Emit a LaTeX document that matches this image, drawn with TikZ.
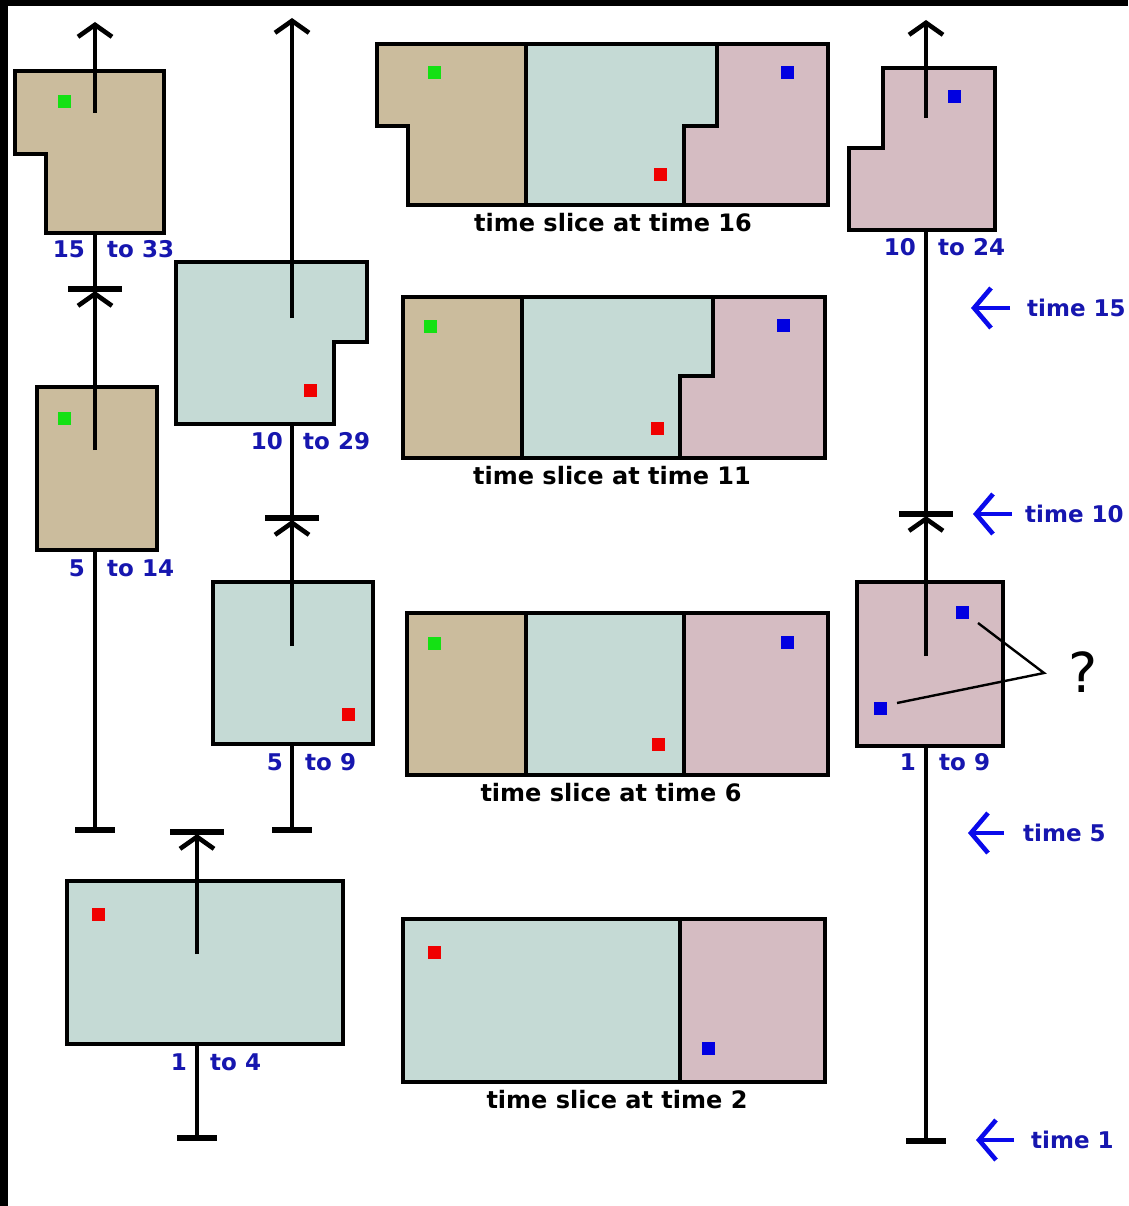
\documentclass[tikz,border=0pt]{standalone}
\usepackage{fontspec}
\setmainfont{DejaVu Sans}
\usetikzlibrary{arrows.meta}
\definecolor{tanc}{RGB}{203,188,157}
\definecolor{bluec}{RGB}{197,218,213}
\definecolor{pinkc}{RGB}{213,188,194}
\definecolor{lblue}{RGB}{22,22,175}
\definecolor{ablue}{RGB}{10,10,235}
\definecolor{sqgreen}{RGB}{20,225,20}
\definecolor{sqred}{RGB}{240,0,0}
\definecolor{sqblue}{RGB}{0,0,225}
\begin{document}
\begin{tikzpicture}[x=1pt,y=-1pt,
  region/.style={draw=black,line width=3.6pt,line join=miter},
  tl/.style={line width=4.6pt},
  up/.style={tl,-{Straight Barb[length=12pt,width=34pt]}},
  barline/.style={line width=5.5pt},
  dot/.style={minimum size=13pt,inner sep=0pt,outer sep=0pt},
  gdot/.style={dot,fill=sqgreen},
  rdot/.style={dot,fill=sqred},
  bdot/.style={dot,fill=sqblue},
  numlbl/.style={font=\bfseries\fontsize{23}{23}\selectfont,text=lblue,inner sep=0pt},
  slicelbl/.style={font=\bfseries\fontsize{24}{24}\selectfont,text=black,inner sep=0pt},
  timelbl/.style={font=\bfseries\fontsize{23}{23}\selectfont,text=lblue,inner sep=0pt,anchor=west},
  timearrow/.style={ablue,line width=4.6pt,-{Straight Barb[length=17pt,width=40pt]}},
  qline/.style={line width=2.4pt}
]
\useasboundingbox (0,0) rectangle (1128,1206);
\fill[white] (0,0) rectangle (1128,1206);
\fill[black] (0,0) rectangle (1128,6);
\fill[black] (0,0) rectangle (8,1206);

% ---------- object boxes ----------
\draw[region,fill=tanc] (15,71) -- (164,71) -- (164,233) -- (46,233) -- (46,154) -- (15,154) -- cycle;
\draw[region,fill=tanc] (37,387) rectangle (157,550);
\draw[region,fill=bluec] (176,262) -- (367,262) -- (367,342) -- (334,342) -- (334,424) -- (176,424) -- cycle;
\draw[region,fill=bluec] (213,582) rectangle (373,744);
\draw[region,fill=bluec] (67,881) rectangle (343,1044);
\draw[region,fill=pinkc] (883,68) -- (995,68) -- (995,230) -- (849,230) -- (849,148) -- (883,148) -- cycle;
\draw[region,fill=pinkc] (857,582) rectangle (1003,746);

% ---------- time slices ----------
% time 16
\draw[region,fill=tanc] (377,44) -- (526,44) -- (526,205) -- (408,205) -- (408,126) -- (377,126) -- cycle;
\draw[region,fill=bluec] (526,44) -- (717,44) -- (717,126) -- (684,126) -- (684,205) -- (526,205) -- cycle;
\draw[region,fill=pinkc] (717,44) -- (828,44) -- (828,205) -- (684,205) -- (684,126) -- (717,126) -- cycle;
\node[slicelbl] (s16) at (613,223) {time slice at time 16};
% time 11
\draw[region,fill=tanc] (403,297) rectangle (522,458);
\draw[region,fill=bluec] (522,297) -- (713,297) -- (713,376) -- (680,376) -- (680,458) -- (522,458) -- cycle;
\draw[region,fill=pinkc] (713,297) -- (825,297) -- (825,458) -- (680,458) -- (680,376) -- (713,376) -- cycle;
\node[slicelbl] (s11) at (612,476) {time slice at time 11};
% time 6
\draw[region,fill=tanc] (407,613) rectangle (526,775);
\draw[region,fill=bluec] (526,613) rectangle (684,775);
\draw[region,fill=pinkc] (684,613) rectangle (828,775);
\node[slicelbl] (s6) at (611,793) {time slice at time 6};
% time 2
\draw[region,fill=bluec] (403,919) rectangle (680,1082);
\draw[region,fill=pinkc] (680,919) rectangle (825,1082);
\node[slicelbl] (s2) at (617,1100) {time slice at time 2};

% ---------- coloured markers ----------
\node[gdot] (g1) at (64,102) {};
\node[gdot] (g2) at (64,418) {};
\node[rdot] (r1) at (310,390) {};
\node[rdot] (r2) at (348,714) {};
\node[rdot] (r3) at (98,914) {};
\node[bdot] (b1) at (954,97) {};
\node[bdot] (b2) at (962,612) {};
\node[bdot] (b3) at (880,708) {};
\node[gdot] (g16) at (434,73) {};
\node[rdot] (r16) at (660,175) {};
\node[bdot] (b16) at (787,73) {};
\node[gdot] (g11) at (430,326) {};
\node[rdot] (r11) at (657,428) {};
\node[bdot] (b11) at (783,325) {};
\node[gdot] (g6) at (434,643) {};
\node[rdot] (r6) at (658,744) {};
\node[bdot] (b6) at (787,642) {};
\node[rdot] (r2s) at (434,952) {};
\node[bdot] (b2s) at (708,1048) {};

% ---------- timeline coordinates ----------
% column A (x=95)
\coordinate (A1in) at (95,113);  \coordinate (A1tip) at (95,22);
\coordinate (A1bot) at (95,233); \coordinate (Abar) at (95,289);
\coordinate (AbarL) at (68,289); \coordinate (AbarR) at (122,289);
\coordinate (A2in) at (95,450);  \coordinate (A2tip) at (95,291);
\coordinate (A2bot) at (95,550); \coordinate (A2start) at (95,830);
\coordinate (A2sL) at (75,830);  \coordinate (A2sR) at (115,830);
% column B (x=292)
\coordinate (B1in) at (292,318); \coordinate (B1tip) at (292,18);
\coordinate (B1bot) at (292,424); \coordinate (Bbar) at (292,518);
\coordinate (BbarL) at (265,518); \coordinate (BbarR) at (319,518);
\coordinate (B2in) at (292,646); \coordinate (B2tip) at (292,520);
\coordinate (B2bot) at (292,744); \coordinate (B2start) at (292,830);
\coordinate (B2sL) at (272,830); \coordinate (B2sR) at (312,830);
% box 1 to 4 (x=197)
\coordinate (Din) at (197,954);  \coordinate (Dtip) at (197,834);
\coordinate (DbarL) at (170,832); \coordinate (DbarR) at (224,832);
\coordinate (Dbot) at (197,1044); \coordinate (Dstart) at (197,1138);
\coordinate (DsL) at (177,1138); \coordinate (DsR) at (217,1138);
% column C (x=926)
\coordinate (C1in) at (926,118); \coordinate (C1tip) at (926,20);
\coordinate (C1bot) at (926,230); \coordinate (Cbar) at (926,514);
\coordinate (CbarL) at (899,514); \coordinate (CbarR) at (953,514);
\coordinate (C2in) at (926,656); \coordinate (C2tip) at (926,516);
\coordinate (C2bot) at (926,746); \coordinate (C2start) at (926,1141);
\coordinate (C2sL) at (906,1141); \coordinate (C2sR) at (946,1141);

% ---------- timelines ----------
\draw[up] (A1in) -- (A1tip);
\draw[tl] (A1bot) -- (Abar);
\draw[barline] (AbarL) -- (AbarR);
\draw[up] (A2in) -- (A2tip);
\draw[tl] (A2bot) -- (A2start);
\draw[barline] (A2sL) -- (A2sR);

\draw[up] (B1in) -- (B1tip);
\draw[tl] (B1bot) -- (Bbar);
\draw[barline] (BbarL) -- (BbarR);
\draw[up] (B2in) -- (B2tip);
\draw[tl] (B2bot) -- (B2start);
\draw[barline] (B2sL) -- (B2sR);

\draw[up] (Din) -- (Dtip);
\draw[barline] (DbarL) -- (DbarR);
\draw[tl] (Dbot) -- (Dstart);
\draw[barline] (DsL) -- (DsR);

\draw[up] (C1in) -- (C1tip);
\draw[tl] (C1bot) -- (Cbar);
\draw[barline] (CbarL) -- (CbarR);
\draw[up] (C2in) -- (C2tip);
\draw[tl] (C2bot) -- (C2start);
\draw[barline] (C2sL) -- (C2sR);

% ---------- range labels ----------
\node[numlbl,anchor=east] (l1a) at (85,249) {15};
\node[numlbl,anchor=west] (l1b) at (107,249) {to 33};
\node[numlbl,anchor=east] (l2a) at (85,568) {5};
\node[numlbl,anchor=west] (l2b) at (107,568) {to 14};
\node[numlbl,anchor=east] (l3a) at (283,441) {10};
\node[numlbl,anchor=west] (l3b) at (303,441) {to 29};
\node[numlbl,anchor=east] (l4a) at (283,762) {5};
\node[numlbl,anchor=west] (l4b) at (305,762) {to 9};
\node[numlbl,anchor=east] (l5a) at (187,1062) {1};
\node[numlbl,anchor=west] (l5b) at (210,1062) {to 4};
\node[numlbl,anchor=east] (l6a) at (916,247) {10};
\node[numlbl,anchor=west] (l6b) at (938,247) {to 24};
\node[numlbl,anchor=east] (l7a) at (916,762) {1};
\node[numlbl,anchor=west] (l7b) at (939,762) {to 9};

% ---------- question ----------
\coordinate (q1) at (978,623);
\coordinate (qv) at (1044,673);
\coordinate (q2) at (897,703);
\draw[qline] (q1) -- (qv) -- (q2);
\node[font=\fontsize{55}{55}\selectfont,inner sep=0pt] (qm) at (1083,672) {?};

% ---------- time markers ----------
\coordinate (t15a) at (1010,308); \coordinate (t15b) at (971,308);
\draw[timearrow] (t15a) -- (t15b);
\node[timelbl] (t15) at (1027,308) {time 15};
\coordinate (t10a) at (1012,514); \coordinate (t10b) at (973,514);
\draw[timearrow] (t10a) -- (t10b);
\node[timelbl] (t10) at (1025,514) {time 10};
\coordinate (t5a) at (1004,833); \coordinate (t5b) at (968,833);
\draw[timearrow] (t5a) -- (t5b);
\node[timelbl] (t5) at (1023,833) {time 5};
\coordinate (t1a) at (1014,1140); \coordinate (t1b) at (976,1140);
\draw[timearrow] (t1a) -- (t1b);
\node[timelbl] (t1) at (1031,1140) {time 1};
\end{tikzpicture}
\end{document}
